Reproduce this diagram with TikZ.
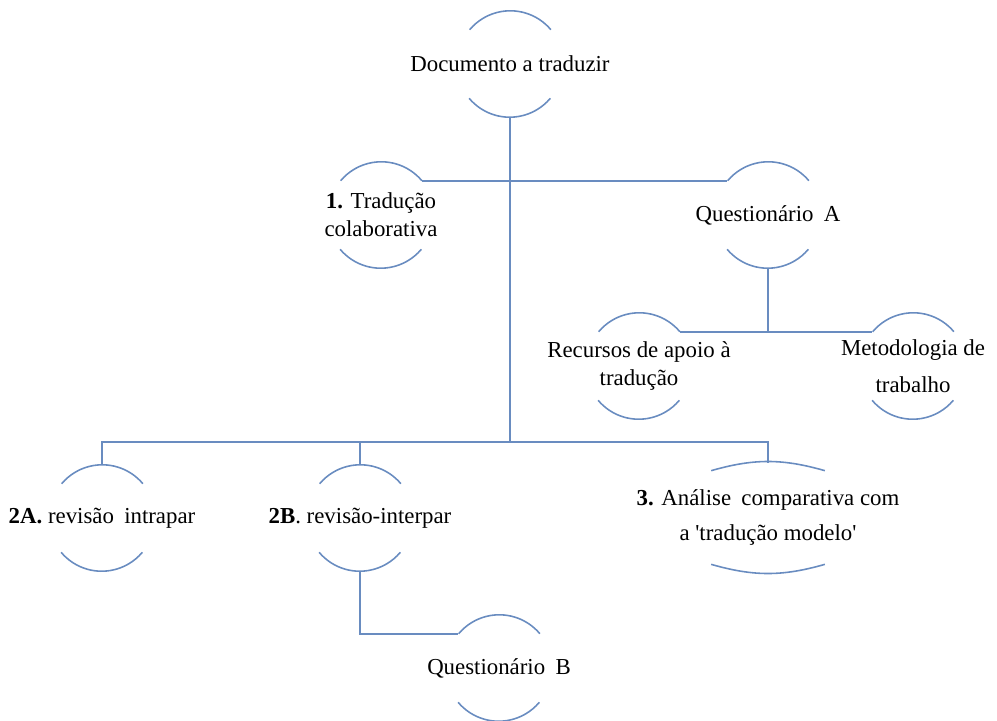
\documentclass[tikz,border=0pt]{standalone}
\usepackage{fontspec}
\setmainfont{Liberation Serif}
\usetikzlibrary{positioning}
\definecolor{linkblue}{RGB}{105,140,192}
\tikzstyle{arcnode}=[circle,%
                     inner sep     = 0pt,%
                     minimum size  = 2.12cm]
\tikzstyle{flatnode}=[rectangle,inner sep=0pt,minimum width=2.26cm,minimum height=2.18cm]
\tikzstyle{arctext}=[font=\fontsize{13}{16}\selectfont,align=center]
\tikzstyle{link}=[draw=linkblue,line width=0.9pt]
\newcommand{\gap}{\hspace{0.45em}}

\begin{document}
\begin{tikzpicture}[x=0.02cm,y=-0.02cm]
            \useasboundingbox (0,0) rectangle (997,720);
            \node[arcnode,label={[arctext]center:Documento a traduzir}] (doc) at (510,64) {};
            \node[arcnode,label={[arctext]center:\textbf{1.} Tradução\\colaborativa}] (t1) at (381,215) {};
            \node[arcnode,label={[arctext]center:Questionário\gap A}] (qa) at (768,215) {};
            \node[arcnode,label={[arctext]center:Recursos de apoio à\\tradução}] (rec) at (639,366) {};
            \node[arcnode,label={[arctext]center:Metodologia de\\[5pt]trabalho}] (met) at (913,366) {};
            \node[arcnode,label={[arctext]center:\textbf{2A.} revisão\gap intrapar}] (a2) at (102,518) {};
            \node[arcnode,label={[arctext]center:\textbf{2B}. revisão-interpar}] (b2) at (360,518) {};
            \node[flatnode,label={[arctext]center:\textbf{3.} Análise\gap comparativa com\\[4pt]a \textquotesingle tradução modelo\textquotesingle}] (c3) at (768,517.5) {};
            \node[arcnode,label={[arctext]center:Questionário\gap B}] (qb) at (499,668) {};
            \coordinate (hub) at (510,442);
            % arcs round the nodes
            \foreach \n in {doc,t1,qa,rec,met,a2,b2,qb} {
              \draw[link] (\n.40) arc[start angle=40,end angle=140,radius=1.06cm];
              \draw[link] (\n.-140) arc[start angle=-140,end angle=-40,radius=1.06cm];
            }
            \draw[link] ([yshift=-0.16cm]c3.north west) to[bend left=16] ([yshift=-0.16cm]c3.north east);
            \draw[link] ([yshift=0.16cm]c3.south west) to[bend right=16] ([yshift=0.16cm]c3.south east);
            % connectors
            \draw[link] (doc.south) -- (hub);
            \draw[link] (t1.40) -- (qa.140);
            \draw[link] (qa.south) -- (qa.south |- rec.40);
            \draw[link] (rec.40) -- (met.140);
            \draw[link] (a2.north) |- (hub) -| (c3.north);
            \draw[link] (b2.north) -- (b2.north |- hub);
            \draw[link] (b2.south) |- (qb.140);
\end{tikzpicture}
\end{document}
